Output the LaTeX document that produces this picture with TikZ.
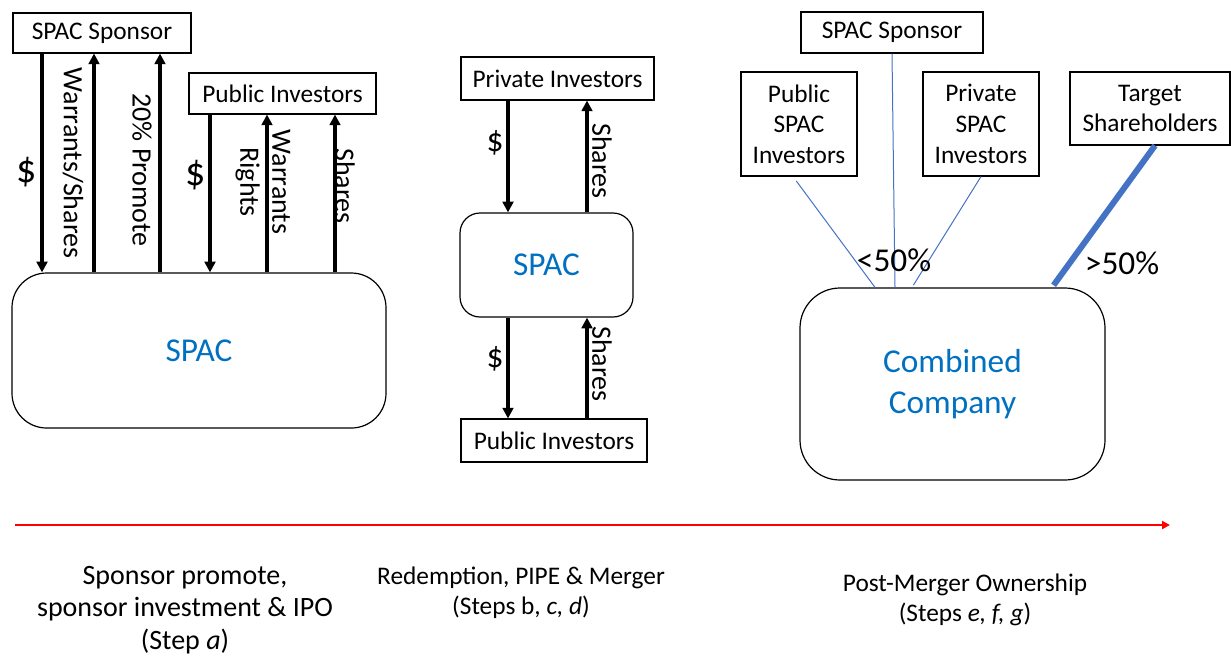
\documentclass[tikz,border=0pt]{standalone}
\usepackage{fontspec}
\setmainfont{Carlito}
\usepackage{tikz}
\usetikzlibrary{%
	calc,%
	arrows.meta%
}
\definecolor{spacblue}{RGB}{0,112,192}
\definecolor{stakeblue}{RGB}{68,114,196}
\tikzset{
	party/.style={draw, line width=0.8pt, inner sep=0pt, align=center, font=\fontsize{19}{23}\selectfont},
	entity/.style={draw, line width=0.9pt, inner sep=0pt, align=center, text=spacblue, font=\fontsize{25}{31}\selectfont},
	flow/.style={line width=2.6pt, -{Triangle[length=8pt,width=8pt]}},
	flowlabel/.style={rotate=-90, align=center, font=\fontsize{21}{23}\selectfont},
	cash/.style={font=\fontsize{25}{27}\selectfont},
	stake/.style={draw=stakeblue, line width=0.75pt},
	steptext/.style={align=center, font=\fontsize{19}{22.5}\selectfont}
}

\begin{document}
\begin{tikzpicture}[x=0.75pt, y=-0.75pt]
				\useasboundingbox (0,0) rectangle (1231,658);
				% step a: sponsor promote and IPO
				\node[party, minimum width=133.5pt, minimum height=30pt] (sponsorL) at (102,33) {SPAC Sponsor};
				\node[party, minimum width=140.25pt, minimum height=30.75pt] (pubL) at (282.5,93.5) {Public Investors};
				\node[entity, rounded corners=26pt, minimum width=280.5pt, minimum height=116.25pt] (spacL) at (199,350.5) {SPAC};
				\draw[flow] (sponsorL.south -| 42,0) -- (42,0 |- spacL.north);
				\draw[flow] (spacL.north -| 94,0) -- (94,0 |- sponsorL.south);
				\draw[flow] (spacL.north -| 160,0) -- (160,0 |- sponsorL.south);
				\draw[flow] (pubL.south -| 210,0) -- (210,0 |- spacL.north);
				\draw[flow] (spacL.north -| 267,0) -- (267,0 |- pubL.south);
				\draw[flow] (spacL.north -| 335,0) -- (335,0 |- pubL.south);
				\node[cash, font=\fontsize{30}{32}\selectfont] (cashL1) at (27,172) {\$};
				\node[flowlabel] (lblWS) at (73,163) {Warrants/Shares};
				\node[flowlabel] (lblPromote) at (142,170) {20\% Promote};
				\node[cash, font=\fontsize{30}{32}\selectfont] (cashL2) at (196,175) {\$};
				\node[flowlabel, font=\fontsize{21}{24}\selectfont] (lblWR) at (263,182) {Warrants\\Rights};
				\node[flowlabel] (lblSharesL) at (345,186) {Shares};
				% steps b, c, d: redemption, PIPE and merger
				\node[party, minimum width=144.75pt, minimum height=32.25pt] (privM) at (557.5,78.5) {Private Investors};
				\node[entity, rounded corners=15pt, minimum width=129.75pt, minimum height=78pt] (spacM) at (546.5,265) {SPAC};
				\node[party, minimum width=139.5pt, minimum height=32.25pt] (pubM) at (554,440.5) {Public Investors};
				\draw[flow] (privM.south -| 508,0) -- (508,0 |- spacM.north);
				\draw[flow] (spacM.north -| 587,0) -- (587,0 |- privM.south);
				\draw[flow] (spacM.south -| 508,0) -- (508,0 |- pubM.north);
				\draw[flow] (pubM.north -| 587,0) -- (587,0 |- spacM.south);
				\node[cash] (cashM1) at (495,143) {\$};
				\node[flowlabel] (lblSharesM1) at (602,161) {Shares};
				\node[cash] (cashM2) at (495,359) {\$};
				\node[flowlabel] (lblSharesM2) at (602,364) {Shares};
				% steps e, f, g: ownership after the merger
				\node[party, minimum width=136.5pt, minimum height=30.75pt] (sponsorR) at (892,32.5) {SPAC Sponsor};
				\node[party, minimum width=87pt, minimum height=78pt] (pubSPAC) at (799,124) {Public\\SPAC\\Investors};
				\node[party, minimum width=87pt, minimum height=78pt] (privSPAC) at (981,124) {Private\\SPAC\\Investors};
				\node[party, minimum width=120pt, minimum height=54.75pt] (target) at (1150,108.5) {Target\\Shareholders};
				\node[entity, rounded corners=30pt, minimum width=228.75pt, minimum height=144pt] (combined) at (952.5,384) {Combined\\Company};
				\draw[stake, shorten <=4pt] (pubSPAC.south -| 793,0) -- (875,0 |- combined.north);
				\draw[stake] (sponsorR.south) -- (895,0 |- combined.north);
				\draw[stake, shorten >=2pt] (privSPAC.south) -- (912,0 |- combined.north);
				\draw[stake, line width=4.5pt, shorten >=2pt] (target.south -| 1155,0) -- (1052,0 |- combined.north);
				\node[font=\fontsize{25}{27}\selectfont] (lessHalf) at (894,260) {<50\%};
				\node[font=\fontsize{25}{27}\selectfont] (moreHalf) at (1122,263) {>50\%};
				% timeline
				\coordinate (tStart) at (15,525);
				\coordinate (tEnd) at (1170,525);
				\draw[red, line width=1.7pt, -{Triangle[length=6pt,width=6pt]}] (tStart) -- (tEnd);
				\node[steptext, font=\fontsize{21}{24.4}\selectfont] (stepA) at (185,610) {Sponsor promote,\\sponsor investment \& IPO\\(Step \textit{a})};
				\node[steptext] (stepB) at (521,592.5) {Redemption, PIPE \& Merger\\(Steps b, \textit{c, d})};
				\node[steptext] (stepC) at (965,600) {Post-Merger Ownership\\(Steps \textit{e, f, g})};
\end{tikzpicture}
\end{document}
